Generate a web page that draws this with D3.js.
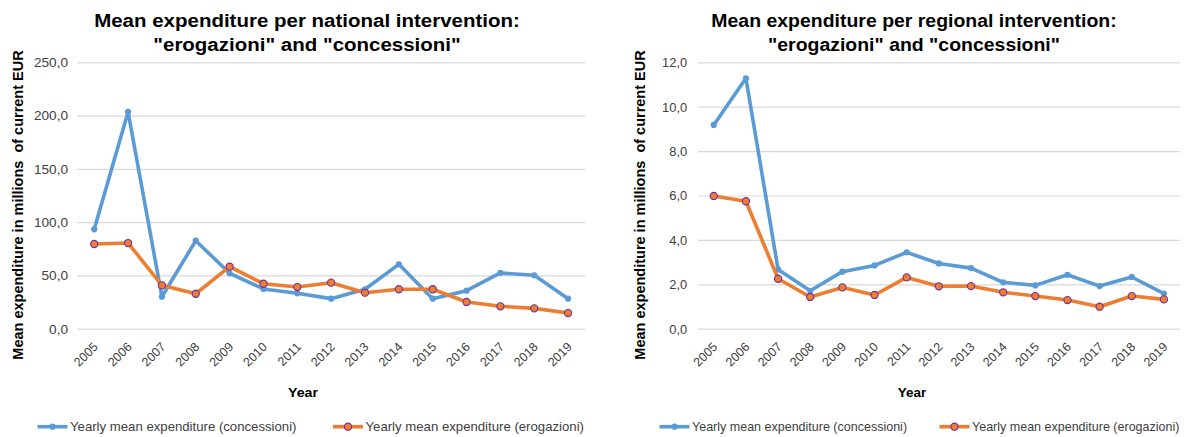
<!DOCTYPE html>
<html>
<head>
<meta charset="utf-8">
<script src="https://cdn.jsdelivr.net/npm/d3@7/dist/d3.min.js"></script>
<style>
  html, body { margin: 0; padding: 0; background: #fff; }
  svg { display: block; font-family: "Liberation Sans", Arial, sans-serif; }
</style>
</head>
<body>
<svg id="chart" width="1187" height="437"></svg>
<script>
// Years on the horizontal axis
const years = ["2005", "2006", "2007", "2008", "2009", "2010", "2011", "2012",
               "2013", "2014", "2015", "2016", "2017", "2018", "2019"];

// National interventions, millions of current EUR
const nationalConcessioni = [93.3, 203.4, 30.0, 82.6, 52.0, 37.3, 33.2, 28.2, 37.0, 60.4, 28.2, 35.7, 52.3, 50.1, 28.2];
const nationalErogazioni  = [79.5, 80.4, 40.7, 32.8, 58.2, 42.2, 39.1, 43.2, 33.8, 37.0, 37.0, 25.1, 21.0, 19.1, 14.7];

// Regional interventions, millions of current EUR
const regionalConcessioni = [9.18, 11.28, 2.67, 1.71, 2.57, 2.85, 3.44, 2.94, 2.73, 2.09, 1.95, 2.43, 1.92, 2.33, 1.58];
const regionalErogazioni  = [5.98, 5.74, 2.25, 1.43, 1.86, 1.52, 2.31, 1.91, 1.92, 1.64, 1.47, 1.29, 0.99, 1.47, 1.32];

// Value-axis ticks
const nationalTicks = [0, 50, 100, 150, 200, 250];
const regionalTicks = [0, 2, 4, 6, 8, 10, 12];

// Series labels
const seriesNames = ["Yearly mean expenditure (concessioni)", "Yearly mean expenditure (erogazioni)"];
const titles = {
  national: ["Mean expenditure per national intervention:", "\"erogazioni\" and \"concessioni\""],
  regional: ["Mean expenditure per regional intervention:", "\"erogazioni\" and \"concessioni\""]
};

const BLUE = "#5B9BD5", ORANGE = "#ED7D31", PURPLE = "#7030A0";
const GRID = "#D9D9D9", LABEL = "#404040";

const itLocale = d3.formatLocale({ decimal: ",", thousands: ".", grouping: [3], currency: ["€", ""] });
const fmt = itLocale.format(".1f");

const svg = d3.select("#chart");

function drawPanel(cfg) {
  const g = svg.append("g");
  const sx = cfg.sx;

  const x = d3.scalePoint().domain(years).range([cfg.x0, cfg.x1]).padding(0.5);
  const y = d3.scaleLinear().domain([0, d3.max(cfg.ticks)]).range([cfg.yBottom, cfg.yTop]);

  // horizontal text, stretched slightly in x like the rest of the panel
  const htext = (sel, px, py) => sel.attr("transform", `translate(${px},${py}) scale(${sx},1)`);

  // title
  cfg.title.forEach((line, i) => {
    g.append("text").text(line)
      .call(htext, cfg.titleX, 27.3 + i * 23.7)
      .attr("text-anchor", "middle")
      .attr("font-size", 18.8).attr("font-weight", "bold").attr("fill", "#000");
  });

  // gridlines + value axis labels
  const yAxis = d3.axisLeft(y).tickValues(cfg.ticks).tickFormat(fmt)
    .tickSize(-(cfg.x1 - cfg.x0)).tickPadding(0);
  const ya = g.append("g").attr("transform", `translate(${cfg.x0},0)`).call(yAxis);
  ya.select(".domain").remove();
  ya.selectAll(".tick line").attr("stroke", GRID).attr("stroke-width", 1.2);
  ya.selectAll(".tick text")
    .attr("x", null).attr("dy", null)
    .attr("transform", `translate(${cfg.labelRight - cfg.x0},4.4) scale(${sx},1)`)
    .attr("text-anchor", "end")
    .attr("font-size", 12.5).attr("font-family", null).attr("fill", LABEL);

  // category axis labels, rotated
  const xAxis = d3.axisBottom(x).tickSize(0).tickPadding(0);
  const xa = g.append("g").attr("transform", `translate(0,${cfg.yBottom})`).call(xAxis);
  xa.select(".domain").remove();
  xa.selectAll(".tick text")
    .attr("y", null).attr("dy", null)
    .attr("transform", "translate(4,19) rotate(-45)")
    .attr("text-anchor", "end")
    .attr("font-size", 12.5).attr("font-family", null).attr("fill", LABEL);

  // axis titles
  g.append("text").text("Year")
    .call(htext, cfg.yearX, 396.7)
    .attr("text-anchor", "middle")
    .attr("font-size", 13).attr("font-weight", "bold").attr("fill", "#000");

  g.append("text").text("Mean expenditure in millions  of current EUR")
    .attr("transform", `translate(${cfg.yTitleX},205) rotate(-90)`)
    .attr("text-anchor", "middle")
    .style("white-space", "pre")
    .attr("font-size", 14.5).attr("font-weight", "bold").attr("fill", "#000");

  // series
  const line = d3.line().x((d, i) => x(years[i])).y(d => y(d));

  g.append("path").datum(cfg.concessioni)
    .attr("d", line).attr("fill", "none")
    .attr("stroke", BLUE).attr("stroke-width", 3.6)
    .attr("stroke-linejoin", "round").attr("stroke-linecap", "round");
  g.append("g").selectAll("circle").data(cfg.concessioni).join("circle")
    .attr("cx", (d, i) => x(years[i])).attr("cy", d => y(d))
    .attr("r", 3.1).attr("fill", BLUE);

  g.append("path").datum(cfg.erogazioni)
    .attr("d", line).attr("fill", "none")
    .attr("stroke", ORANGE).attr("stroke-width", 3.6)
    .attr("stroke-linejoin", "round").attr("stroke-linecap", "round");
  g.append("g").selectAll("circle").data(cfg.erogazioni).join("circle")
    .attr("cx", (d, i) => x(years[i])).attr("cy", d => y(d))
    .attr("r", 3.6).attr("fill", ORANGE)
    .attr("stroke", PURPLE).attr("stroke-width", 1.1);

  // legend
  const ly = 426.7;
  const items = [
    { name: seriesNames[0], color: BLUE, x: cfg.legendX[0], ring: false },
    { name: seriesNames[1], color: ORANGE, x: cfg.legendX[1], ring: true }
  ];
  items.forEach(it => {
    g.append("line")
      .attr("x1", it.x).attr("x2", it.x + 30).attr("y1", ly).attr("y2", ly)
      .attr("stroke", it.color).attr("stroke-width", 3.6);
    const c = g.append("circle").attr("cx", it.x + 15).attr("cy", ly)
      .attr("r", it.ring ? 3.6 : 3.1).attr("fill", it.color);
    if (it.ring) c.attr("stroke", PURPLE).attr("stroke-width", 1.1);
    g.append("text").text(it.name)
      .call(htext, it.x + 32.5, ly + 4.3)
      .attr("font-size", 12.1).attr("fill", LABEL);
  });
}

drawPanel({
  title: titles.national, ticks: nationalTicks,
  concessioni: nationalConcessioni, erogazioni: nationalErogazioni,
  x0: 77.3, x1: 585, yTop: 62.3, yBottom: 328.7, sx: 1.09,
  titleX: 307, yearX: 303, yTitleX: 23.3, labelRight: 68,
  legendX: [37.5, 333]
});

drawPanel({
  title: titles.regional, ticks: regionalTicks,
  concessioni: regionalConcessioni, erogazioni: regionalErogazioni,
  x0: 697.7, x1: 1180, yTop: 62.3, yBottom: 328.7, sx: 1.035,
  titleX: 914, yearX: 912, yTitleX: 645, labelRight: 687.3,
  legendX: [659.5, 939.5]
});
</script>
</body>
</html>
